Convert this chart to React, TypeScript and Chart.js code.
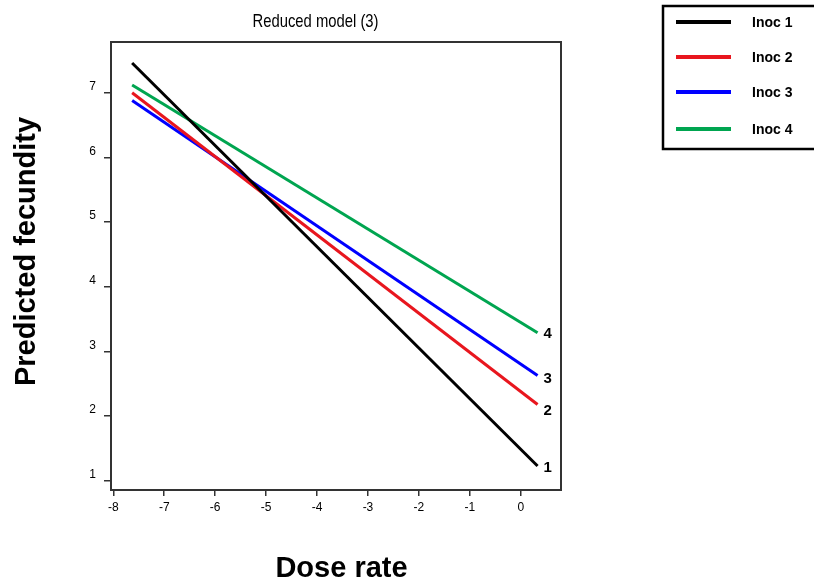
import React, { useEffect, useRef } from "react";
import { Chart, registerables } from "chart.js";

Chart.register(...registerables);

// ---- data ----
const doseRate = [-7.63, 0.33];
const inoc1 = [7.46, 1.23];
const inoc2 = [7.0, 2.18];
const inoc3 = [6.88, 2.63];
const inoc4 = [7.12, 3.29];
const seriesNames = ["Inoc 1", "Inoc 2", "Inoc 3", "Inoc 4"];
const endLabels = ["1", "2", "3", "4"];
const xTicks = [-8, -7, -6, -5, -4, -3, -2, -1, 0];
const yTicks = [1, 2, 3, 4, 5, 6, 7];
const titleText = "Reduced model (3)";
const xTitle = "Dose rate";
const yTitle = "Predicted fecundity";

const colors = ["#000000", "#e8161e", "#0000ff", "#00a550"];
const FONT = "Arial, 'Liberation Sans', sans-serif";

const decorPlugin = {
  id: "decor",
  afterDraw(chart: any) {
    const ctx = chart.ctx;
    const a = chart.chartArea;
    ctx.save();
    // plot border
    ctx.strokeStyle = "#333";
    ctx.lineWidth = 2;
    ctx.strokeRect(a.left, a.top, a.right - a.left, a.bottom - a.top);

    ctx.fillStyle = "#000";
    // title
    ctx.save();
    ctx.font = `19px ${FONT}`;
    ctx.textAlign = "center";
    ctx.textBaseline = "alphabetic";
    ctx.translate(315.5, 27);
    ctx.scale(0.78, 1);
    ctx.fillText(titleText, 0, 0);
    ctx.restore();

    // x title
    ctx.font = `bold 29px ${FONT}`;
    ctx.textAlign = "center";
    ctx.textBaseline = "alphabetic";
    ctx.fillText(xTitle, 341.5, 577);

    // y title
    ctx.save();
    ctx.translate(35, 251.5);
    ctx.rotate(-Math.PI / 2);
    ctx.fillText(yTitle, 0, 0);
    ctx.restore();

    // end labels
    const dy = [2, 6, 3, 1];
    ctx.font = `bold 15px ${FONT}`;
    ctx.textAlign = "left";
    ctx.textBaseline = "middle";
    chart.data.datasets.forEach((ds: any, i: number) => {
      const meta = chart.getDatasetMeta(i);
      const last = meta.data[meta.data.length - 1];
      ctx.fillText(endLabels[i], last.x + 6, last.y + dy[i]);
    });

    // legend
    ctx.strokeStyle = "#000";
    ctx.lineWidth = 2.5;
    ctx.strokeRect(663, 6, 170, 143);
    const rows = [22, 57, 92, 129];
    ctx.font = `bold 14px ${FONT}`;
    ctx.textBaseline = "middle";
    seriesNames.forEach((n, i) => {
      ctx.strokeStyle = colors[i];
      ctx.lineWidth = 4;
      ctx.beginPath();
      ctx.moveTo(676, rows[i]);
      ctx.lineTo(731, rows[i]);
      ctx.stroke();
      ctx.fillStyle = "#000";
      ctx.fillText(n, 752, rows[i] + 1);
    });
    ctx.restore();
  },
};

export default function App() {
  const ref = useRef<HTMLCanvasElement | null>(null);
  useEffect(() => {
    if (!ref.current) return;
    const series = [inoc1, inoc2, inoc3, inoc4];
    const chart = new Chart(ref.current, {
      type: "line",
      data: {
        datasets: series.map((s, i) => ({
          label: seriesNames[i],
          data: s.map((v, j) => ({ x: doseRate[j], y: v })),
          borderColor: colors[i],
          backgroundColor: colors[i],
          borderWidth: 3,
          pointRadius: 0,
          tension: 0,
          fill: false,
        })),
      },
      options: {
        responsive: false,
        animation: false,
        devicePixelRatio: 1,
        layout: { padding: { left: 0, right: 253, top: 42, bottom: 0 } },
        plugins: {
          legend: { display: false },
          tooltip: { enabled: false },
          title: { display: false },
        },
        scales: {
          x: {
            type: "linear",
            min: -8.045,
            max: 0.79,
            afterBuildTicks: (s: any) => {
              s.ticks = xTicks.map((v) => ({ value: v }));
            },
            afterFit: (s: any) => {
              s.height = 94;
            },
            ticks: {
              font: { family: FONT, size: 12 },
              color: "#000",
              padding: 4,
              maxRotation: 0,
              autoSkip: false,
              callback: (v: any) => String(v),
            },
            grid: {
              drawOnChartArea: false,
              drawTicks: true,
              tickLength: 6,
              color: "#333",
              lineWidth: 1.5,
            },
            border: { display: false },
          },
          y: {
            type: "linear",
            min: 0.859,
            max: 7.784,
            afterBuildTicks: (s: any) => {
              s.ticks = yTicks.map((v) => ({ value: v }));
            },
            afterFit: (s: any) => {
              s.width = 111;
            },
            ticks: {
              font: { family: FONT, size: 12 },
              color: "#000",
              padding: 8,
              labelOffset: -6,
              autoSkip: false,
              callback: (v: any) => String(v),
            },
            grid: {
              drawOnChartArea: false,
              drawTicks: true,
              tickLength: 7,
              color: "#333",
              lineWidth: 1.5,
            },
            border: { display: false },
          },
        },
      },
      plugins: [decorPlugin],
    });
    return () => chart.destroy();
  }, []);
  return (
    <div style={{ position: "absolute", left: 0, top: 0, width: 814, height: 584, background: "#fff" }}>
      <canvas ref={ref} width={814} height={584} />
    </div>
  );
}
